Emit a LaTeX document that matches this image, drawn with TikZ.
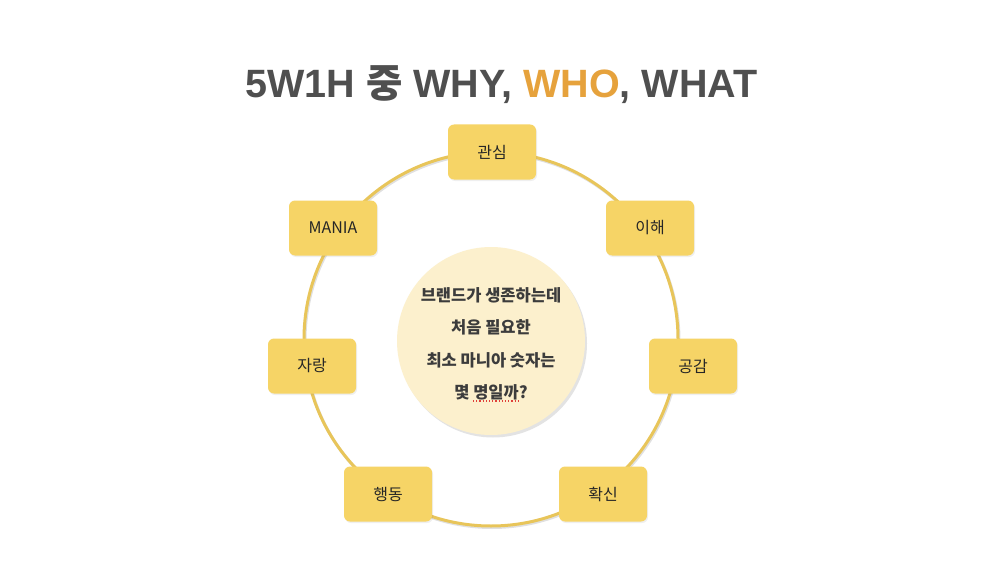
\documentclass[tikz,border=0pt]{standalone}
\usepackage{fontspec}
\setmainfont{Liberation Sans}
\newfontfamily\cjk{Noto Sans CJK KR}
\usetikzlibrary{shadows}

\definecolor{titlegray}{HTML}{4F4F4F}
\definecolor{whoorange}{HTML}{E6A23C}
\definecolor{ringgold}{HTML}{E8C55A}
\definecolor{boxyellow}{HTML}{F6D466}
\definecolor{corecream}{HTML}{FCF0CD}
\definecolor{coretext}{HTML}{3C3C3C}
\definecolor{squigred}{HTML}{E0403A}

\tikzset{
  stagebox/.style={rectangle, rounded corners=6pt, fill=boxyellow,
    minimum width=88pt, minimum height=55pt, text=black!85,
    font=\cjk\fontsize{16}{18}\selectfont,
    drop shadow={opacity=0.12, shadow xshift=1pt, shadow yshift=-1.5pt}},
  core/.style={circle, fill=corecream, minimum size=188pt, inner sep=0pt,
    drop shadow={opacity=0.22, shadow xshift=2pt, shadow yshift=-2.5pt}}
}

\begin{document}
\begin{tikzpicture}[x=1pt, y=-1pt]
    \useasboundingbox[fill=white] (0,0) rectangle (1000,564);

    % title
    \node[anchor=base, text=titlegray, font=\bfseries\fontsize{39.5}{41}\selectfont]
        (title) at (501.5,98) {5W1H {\cjk\bfseries 중} WHY, \textcolor{whoorange}{WHO}, WHAT};

    % ring
    \draw[black, opacity=0.12, line width=3pt] (492,340.5) circle[radius=187];
    \draw[ringgold, line width=3pt] (491,339) circle[radius=187];

    % centre
    \node[core] (hub) at (491,341) {};
    \node[align=center, text=coretext, font=\cjk\bfseries\fontsize{16.5}{32.5}\selectfont]
        (question) at (491,344) {브랜드가 생존하는데\\처음 필요한\\최소 마니아 숫자는\\몇 명일까?};
    \coordinate (squigA) at (473,401);
    \coordinate (squigB) at (518,401);
    \draw[squigred, line width=1.2pt, dotted] (squigA) -- (squigB);

    % stages
    \node[stagebox] (s1) at (492,152) {관심};
    \node[stagebox] (s2) at (650,228) {이해};
    \node[stagebox] (s3) at (693,366) {공감};
    \node[stagebox] (s4) at (603,494) {확신};
    \node[stagebox] (s5) at (388,494) {행동};
    \node[stagebox] (s6) at (312,366) {자랑};
    \node[stagebox] (s7) at (333,228) {MANIA};
\end{tikzpicture}
\end{document}
